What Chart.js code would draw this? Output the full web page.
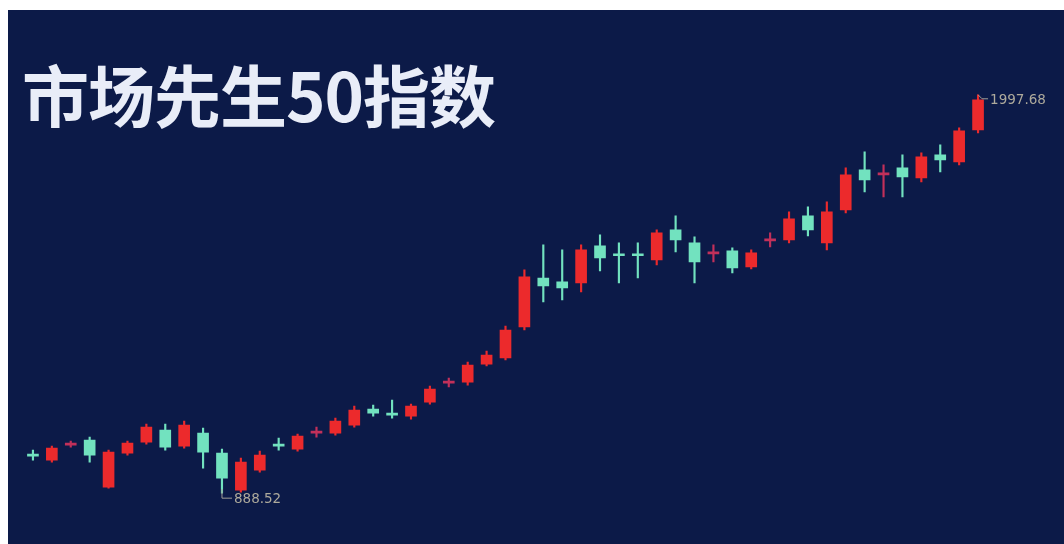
<!DOCTYPE html>
<html>
<head>
<meta charset="utf-8">
<script src="https://cdn.jsdelivr.net/npm/chart.js@4"></script>
<style>
  body { margin: 0; background: #ffffff; }
  #wrap { position: absolute; left: 8px; top: 10px; width: 1056px; height: 534px; background: #0c1a48; }
  #title { position: absolute; left: 14px; top: 34px; color: #e9edf8; font: bold 67px "Noto Sans CJK SC", sans-serif; letter-spacing: -1px; z-index: 2; }
  #chart { position: absolute; left: 0; top: 0; }
</style>
</head>
<body>
<div id="wrap">
  <div id="title">市场先生50指数</div>
  <canvas id="chart" width="1056" height="534"></canvas>
</div>
<script>
// daily candles: open, high, low, close
const days = Array.from({ length: 51 }, (_, i) => 'D' + (i + 1));
const openVals = [997.2, 980.5, 1022.3, 1036.2, 905.2, 1000.0, 1030.6, 1064.1, 1019.5, 1055.7,
  1000.0, 896.9, 952.6, 1025.1, 1011.1, 1055.7, 1055.7, 1078.0, 1122.6, 1111.5,
  1103.1, 1142.1, 1195.1, 1197.9, 1248.0, 1264.8, 1351.2, 1487.7, 1476.6, 1473.8,
  1576.9, 1555.1, 1555.1, 1537.9, 1621.5, 1585.3, 1554.6, 1563.0, 1518.4, 1590.8,
  1593.6, 1660.5, 1585.3, 1677.2, 1788.7, 1774.8, 1794.3, 1766.4, 1830.5, 1811.0, 1900.2];
const highVals = [1008.3, 1019.5, 1033.4, 1044.6, 1008.3, 1033.4, 1080.8, 1080.8, 1089.2, 1069.7,
  1011.1, 986.1, 1005.6, 1041.8, 1053.0, 1072.5, 1097.5, 1131.0, 1133.8, 1147.7,
  1136.5, 1186.7, 1209.0, 1253.6, 1284.3, 1354.0, 1510.0, 1579.7, 1565.8, 1579.7,
  1607.6, 1585.3, 1585.3, 1621.5, 1660.5, 1602.0, 1579.7, 1571.3, 1565.8, 1613.1,
  1671.7, 1685.6, 1699.5, 1794.3, 1838.9, 1802.6, 1830.5, 1836.1, 1858.4, 1905.8, 1997.68];
const lowVals = [980.5, 974.9, 1016.7, 974.9, 902.4, 994.4, 1025.0, 1008.4, 1013.9, 958.2,
  888.52, 891.3, 947.0, 1008.4, 1005.6, 1044.6, 1050.2, 1072.5, 1103.1, 1097.5,
  1094.8, 1136.5, 1184.0, 1189.5, 1242.5, 1259.2, 1342.8, 1420.8, 1426.4, 1448.7,
  1507.2, 1473.8, 1487.7, 1524.0, 1560.2, 1473.8, 1532.3, 1501.7, 1512.8, 1574.1,
  1585.3, 1604.8, 1565.8, 1668.9, 1727.4, 1713.5, 1713.5, 1755.3, 1783.1, 1802.6, 1891.8];
const closeVals = [991.6, 1013.9, 1027.8, 994.4, 1002.8, 1027.9, 1072.5, 1016.7, 1078.0, 1002.8,
  930.3, 974.9, 994.4, 1019.5, 1047.4, 1061.3, 1089.2, 1119.8, 1111.5, 1105.9,
  1131.0, 1178.4, 1200.7, 1245.2, 1273.1, 1342.8, 1490.5, 1465.4, 1459.8, 1565.8,
  1543.5, 1549.5, 1549.5, 1613.1, 1593.6, 1532.3, 1560.2, 1515.6, 1557.4, 1596.4,
  1652.2, 1621.5, 1671.7, 1774.8, 1760.8, 1780.4, 1769.2, 1825.0, 1816.6, 1897.4, 1983.8];

const upColor = '#ec2a2c';
const downColor = '#72e2bf';
const crossUp = '#c2305a';

const colors = days.map((d, i) => {
  const body = Math.abs(closeVals[i] - openVals[i]);
  if (closeVals[i] >= openVals[i]) return body < 8 ? crossUp : upColor;
  return downColor;
});

// max / min markers
const markPlugin = {
  id: 'markPlugin',
  afterDatasetsDraw(chart) {
    const ctx = chart.ctx;
    const x = chart.scales.x;
    const y = chart.scales.y;
    const hi = Math.max(...highVals);
    const lo = Math.min(...lowVals);
    const hiIdx = highVals.indexOf(hi);
    const loIdx = lowVals.indexOf(lo);
    ctx.save();
    ctx.strokeStyle = '#a09e98';
    ctx.fillStyle = '#aeaa9c';
    ctx.lineWidth = 1;
    ctx.font = '13.5px "DejaVu Sans", sans-serif';
    ctx.textBaseline = 'middle';

    let px = x.getPixelForValue(hiIdx);
    let py = y.getPixelForValue(hi);
    ctx.beginPath();
    ctx.moveTo(px, py);
    ctx.lineTo(px + 4, py + 4);
    ctx.lineTo(px + 10, py + 4);
    ctx.stroke();
    ctx.fillText(hi.toFixed(2), px + 12, py + 6);

    px = x.getPixelForValue(loIdx);
    py = y.getPixelForValue(lo);
    ctx.beginPath();
    ctx.moveTo(px, py - 4);
    ctx.lineTo(px, py + 5);
    ctx.lineTo(px + 10, py + 5);
    ctx.stroke();
    ctx.fillText(lo.toFixed(2), px + 12, py + 6);
    ctx.restore();
  }
};

const ctx = document.getElementById('chart').getContext('2d');
new Chart(ctx, {
  type: 'bar',
  data: {
    labels: days,
    datasets: [{
      label: 'wick',
      data: days.map((d, i) => [lowVals[i], highVals[i]]),
      backgroundColor: colors,
      barThickness: 1.5,
      grouped: false,
      order: 2
    }, {
      label: 'body',
      data: days.map((d, i) => [openVals[i], closeVals[i]]),
      backgroundColor: colors,
      barThickness: 11,
      minBarLength: 2,
      grouped: false,
      order: 1
    }]
  },
  options: {
    responsive: false,
    animation: false,
    layout: { padding: { left: 15.5, right: 76.5, top: 66, bottom: 37 } },
    plugins: { legend: { display: false }, tooltip: { enabled: false } },
    scales: {
      x: { display: false, offset: true },
      y: { display: false, min: 850, max: 2050 }
    }
  },
  plugins: [markPlugin]
});
</script>
</body>
</html>
